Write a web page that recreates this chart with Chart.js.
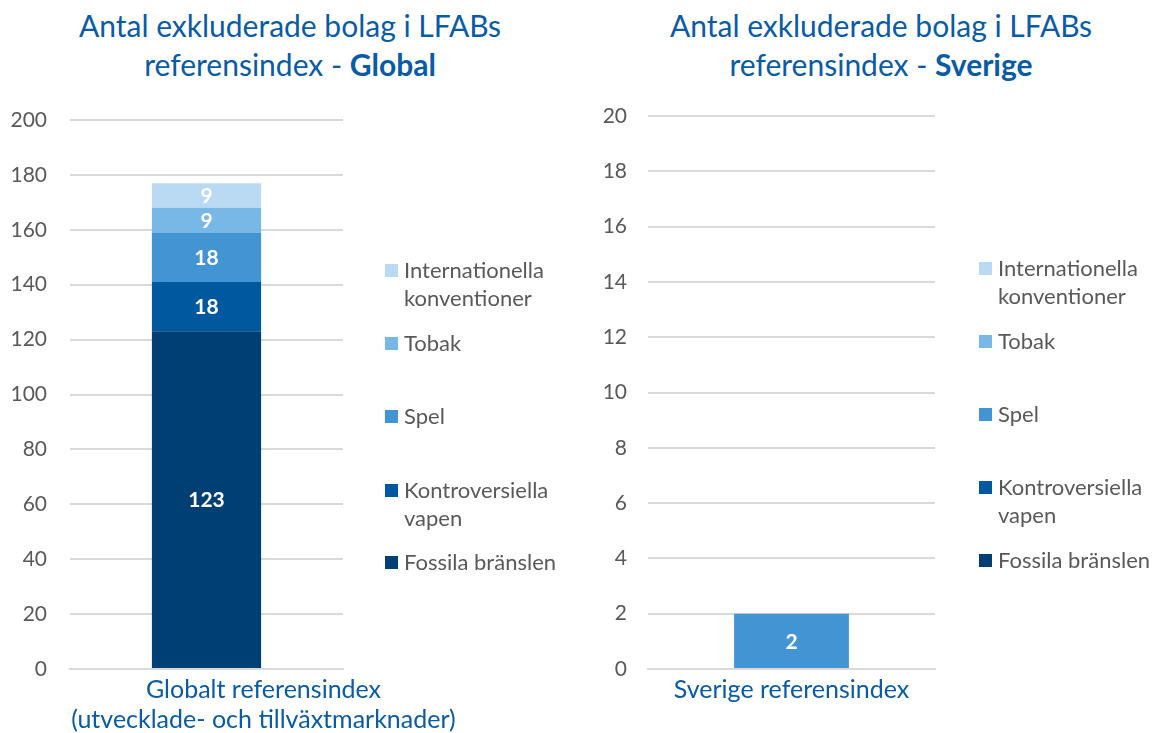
<!DOCTYPE html>
<html lang="sv">
<head>
<meta charset="utf-8">
<script src="https://cdn.jsdelivr.net/npm/chart.js@4"></script>
<style>
  body { margin: 0; width: 1153px; height: 733px; background: #fff; position: relative; overflow: hidden; font-family: Lato, "Noto Sans", sans-serif; }
  .title { position: absolute; top: 6px; color: #0a5ba5; font-size: 30px; line-height: 39px; text-align: center; }
  .title b { font-weight: 700; }
  .box { position: absolute; top: 90px; height: 643px; }
  .legend { position: absolute; color: #595959; font-size: 22px; line-height: 28px; }
  .legend div { position: absolute; white-space: nowrap; }
  .legend span.sw { position: absolute; left: 0; top: 8px; width: 13px; height: 13px; }
  .legend span.tx { position: absolute; left: 19px; top: 0; }
</style>
</head>
<body>
<div class="title" style="left:40px;width:500px">Antal exkluderade bolag i LFABs<br>referensindex - <b>Global</b></div>
<div class="title" style="left:631px;width:500px">Antal exkluderade bolag i LFABs<br>referensindex - <b>Sverige</b></div>
<div class="box" style="left:0;width:575px"><canvas id="globalChart"></canvas></div>
<div class="box" style="left:575px;width:578px"><canvas id="swedenChart"></canvas></div>
<div class="legend" id="legend-global" style="left:385px;top:0"></div>
<div class="legend" id="legend-sweden" style="left:979px;top:0"></div>
<script>
// serier, nerifrån och upp i stapeln
const seriesNames = ['Fossila bränslen', 'Kontroversiella vapen', 'Spel', 'Tobak', 'Internationella konventioner'];
const seriesColors = ['#003f74', '#00599f', '#4394d2', '#78b8e6', '#bad9f2'];
const globalLabels = [['Globalt referensindex', '(utvecklade- och tillväxtmarknader)']];
const globalValues = [123, 18, 18, 9, 9];
const swedenLabels = ['Sverige referensindex'];
const swedenValues = [0, 0, 2, 0, 0];
const globalTicks = { min: 0, max: 200, step: 20 };
const swedenTicks = { min: 0, max: 20, step: 2 };

// etiketter i legenden (rad 1, rad 2)
const legendText = [['Fossila bränslen'], ['Kontroversiella', 'vapen'], ['Spel'], ['Tobak'], ['Internationella', 'konventioner']];

// skriv värdet mitt i varje segment
const valueLabels = {
    id: 'valueLabels',
    afterDatasetsDraw(chart) {
        const ctx = chart.ctx;
        ctx.save();
        ctx.fillStyle = '#fff';
        ctx.font = 'bold 21px Lato, sans-serif';
        ctx.textAlign = 'center';
        ctx.textBaseline = 'middle';
        chart.data.datasets.forEach((ds, i) => {
            chart.getDatasetMeta(i).data.forEach((bar, j) => {
                const v = ds.data[j];
                if (!v) return;
                const p = bar.getProps(['x', 'y', 'base'], true);
                ctx.fillText(v, p.x, (p.y + p.base) / 2 + 1);
            });
        });
        ctx.restore();
    }
};

function makeChart(id, labels, values, ticks, yWidth, yPad, padRight, padTop, labelOffset) {
    return new Chart(document.getElementById(id), {
        type: 'bar',
        data: {
            labels: labels,
            datasets: seriesNames.map((name, i) => ({
                label: name,
                data: [values[i]],
                backgroundColor: seriesColors[i],
                borderWidth: 0,
                categoryPercentage: 1,
                barPercentage: 0.4
            }))
        },
        options: {
            responsive: true,
            maintainAspectRatio: false,
            animation: false,
            layout: { padding: { top: padTop, right: padRight, left: 0, bottom: 0 } },
            plugins: { legend: { display: false }, tooltip: { enabled: false } },
            scales: {
                x: {
                    stacked: true,
                    grid: { display: false, drawTicks: false },
                    border: { color: '#d9d9d9', width: 2 },
                    ticks: { color: '#0a5ba5', font: { family: 'Lato', size: 25 }, padding: 6, labelOffset: labelOffset, maxRotation: 0, autoSkip: false },
                    afterFit: s => { s.height = 64; s.paddingLeft = 0; s.paddingRight = 0; }
                },
                y: {
                    stacked: true,
                    min: ticks.min, max: ticks.max,
                    grid: { color: '#d9d9d9', lineWidth: 2, drawTicks: false },
                    border: { display: false },
                    ticks: { stepSize: ticks.step, color: '#595959', font: { family: 'Lato', size: 21 }, padding: yPad },
                    afterFit: s => { s.width = yWidth; s.paddingTop = 0; s.paddingBottom = 0; }
                }
            }
        },
        plugins: [valueLabels]
    });
}

function buildLegend(id, rows) {
    const el = document.getElementById(id);
    legendText.forEach((lines, i) => {
        const d = document.createElement('div');
        d.style.top = (rows[i] - 14) + 'px';
        d.innerHTML = `<span class="sw" style="background:${seriesColors[i]}"></span><span class="tx">${lines.join('<br>')}</span>`;
        el.appendChild(d);
    });
}

makeChart('globalChart', globalLabels, globalValues, globalTicks, 70, 23, 232, 30, 57);
makeChart('swedenChart', swedenLabels, swedenValues, swedenTicks, 73, 21, 218, 26, 0);
buildLegend('legend-global', [562, 490, 416, 343, 270]);
buildLegend('legend-sweden', [560, 487, 414, 341, 268]);
</script>
</body>
</html>
